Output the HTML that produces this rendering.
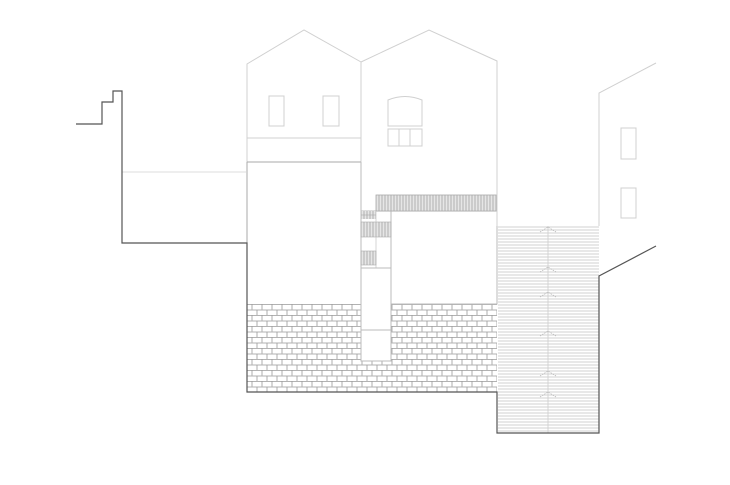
<!DOCTYPE html>
<html><head><meta charset="utf-8"><style>html,body{margin:0;padding:0;background:#fff}svg{display:block}</style></head>
<body>
<svg width="730" height="485" viewBox="0 0 730 485" xmlns="http://www.w3.org/2000/svg">
<defs>
<pattern id="brick" x="247" y="304" width="20" height="11" patternUnits="userSpaceOnUse">
<rect width="20" height="11" fill="#fff"/>
<path d="M0 0.5H20M0 6H20M5 0V5.5M15 0V5.5M0 6V11M10 6V11M20 6V11" stroke="#999" stroke-width="0.8"/>
</pattern>
<pattern id="vhatch" x="0" y="0" width="3" height="10" patternUnits="userSpaceOnUse">
<rect width="3" height="10" fill="#e6e6e6"/>
<path d="M1 0V10" stroke="#999" stroke-width="0.7"/>
</pattern>
<pattern id="hstripe" x="0" y="226" width="10" height="3" patternUnits="userSpaceOnUse">
<rect width="10" height="3" fill="#fff"/>
<path d="M0 1H10" stroke="#dadada" stroke-width="1.2"/>
</pattern>
</defs>

<rect x="498" y="226" width="101" height="207" fill="url(#hstripe)"/>
<line x1="548" y1="226" x2="548" y2="433" stroke="#ccc" stroke-width="0.8"/>
<g fill="none" stroke="#bbb" stroke-width="0.8" stroke-dasharray="1.5 1">
<path d="M540 232 L548 227 L556 232"/>
<path d="M540 272 L548 267 L556 272"/>
<path d="M540 297 L548 292 L556 297"/>
<path d="M540 336 L548 331 L556 336"/>
<path d="M540 376 L548 371 L556 376"/>
<path d="M540 397 L548 392 L556 397"/>
</g>

<rect x="247" y="304" width="250" height="88" fill="url(#brick)"/>
<rect x="361" y="211" width="30" height="150" fill="#fff" stroke="#bbb" stroke-width="1"/>
<line x1="361" y1="330" x2="391" y2="330" stroke="#bbb"/>
<rect x="391" y="211" width="106" height="93" fill="#fff" stroke="#bbb" stroke-width="1"/>
<rect x="376" y="195" width="121" height="16" fill="url(#vhatch)" stroke="#aaa" stroke-width="0.8"/>
<rect x="361" y="211" width="15" height="8" fill="url(#vhatch)"/>
<line x1="361" y1="215" x2="376" y2="215" stroke="#aaa" stroke-width="0.6"/>
<rect x="361" y="222" width="30" height="15" fill="url(#vhatch)" stroke="#aaa" stroke-width="0.6"/>
<line x1="376" y1="211" x2="376" y2="268" stroke="#bbb" stroke-width="0.6"/>
<rect x="361" y="251" width="15" height="14" fill="url(#vhatch)" stroke="#aaa" stroke-width="0.6"/>
<line x1="361" y1="268" x2="391" y2="268" stroke="#bbb" stroke-width="1"/>

<g fill="none" stroke="#d0d0d0" stroke-width="1">
<path d="M247 304 V64 L304 30 L361 62 V211"/>
<line x1="247" y1="138" x2="361" y2="138"/>
<path d="M361 62 L429 30 L497 61 V226"/>
<rect x="269" y="96" width="15" height="30"/>
<rect x="323" y="96" width="16" height="30"/>
<path d="M388 126 V100 Q405 93 422 100 V126 Z"/>
<rect x="388" y="129" width="11" height="17"/>
<rect x="399" y="129" width="11" height="17"/>
<rect x="410" y="129" width="12" height="17"/>
<path d="M599 226 V93 L656 63"/>
<rect x="621" y="128" width="15" height="31"/>
<rect x="621" y="188" width="15" height="30"/>
</g>
<line x1="122" y1="172" x2="246" y2="172" stroke="#ddd" stroke-width="1"/>
<line x1="247" y1="162" x2="361" y2="162" stroke="#aaa" stroke-width="1"/>
<line x1="247" y1="162" x2="247" y2="304" stroke="#aaa" stroke-width="1"/>
<line x1="361" y1="162" x2="361" y2="211" stroke="#bbb" stroke-width="1"/>

<path d="M76 124 H102 V102 H113 V91 H122 V243 H247 V392 H497 V433 H599 V276 L656 246" fill="none" stroke="#555" stroke-width="1.2"/>
</svg>
</body></html>
